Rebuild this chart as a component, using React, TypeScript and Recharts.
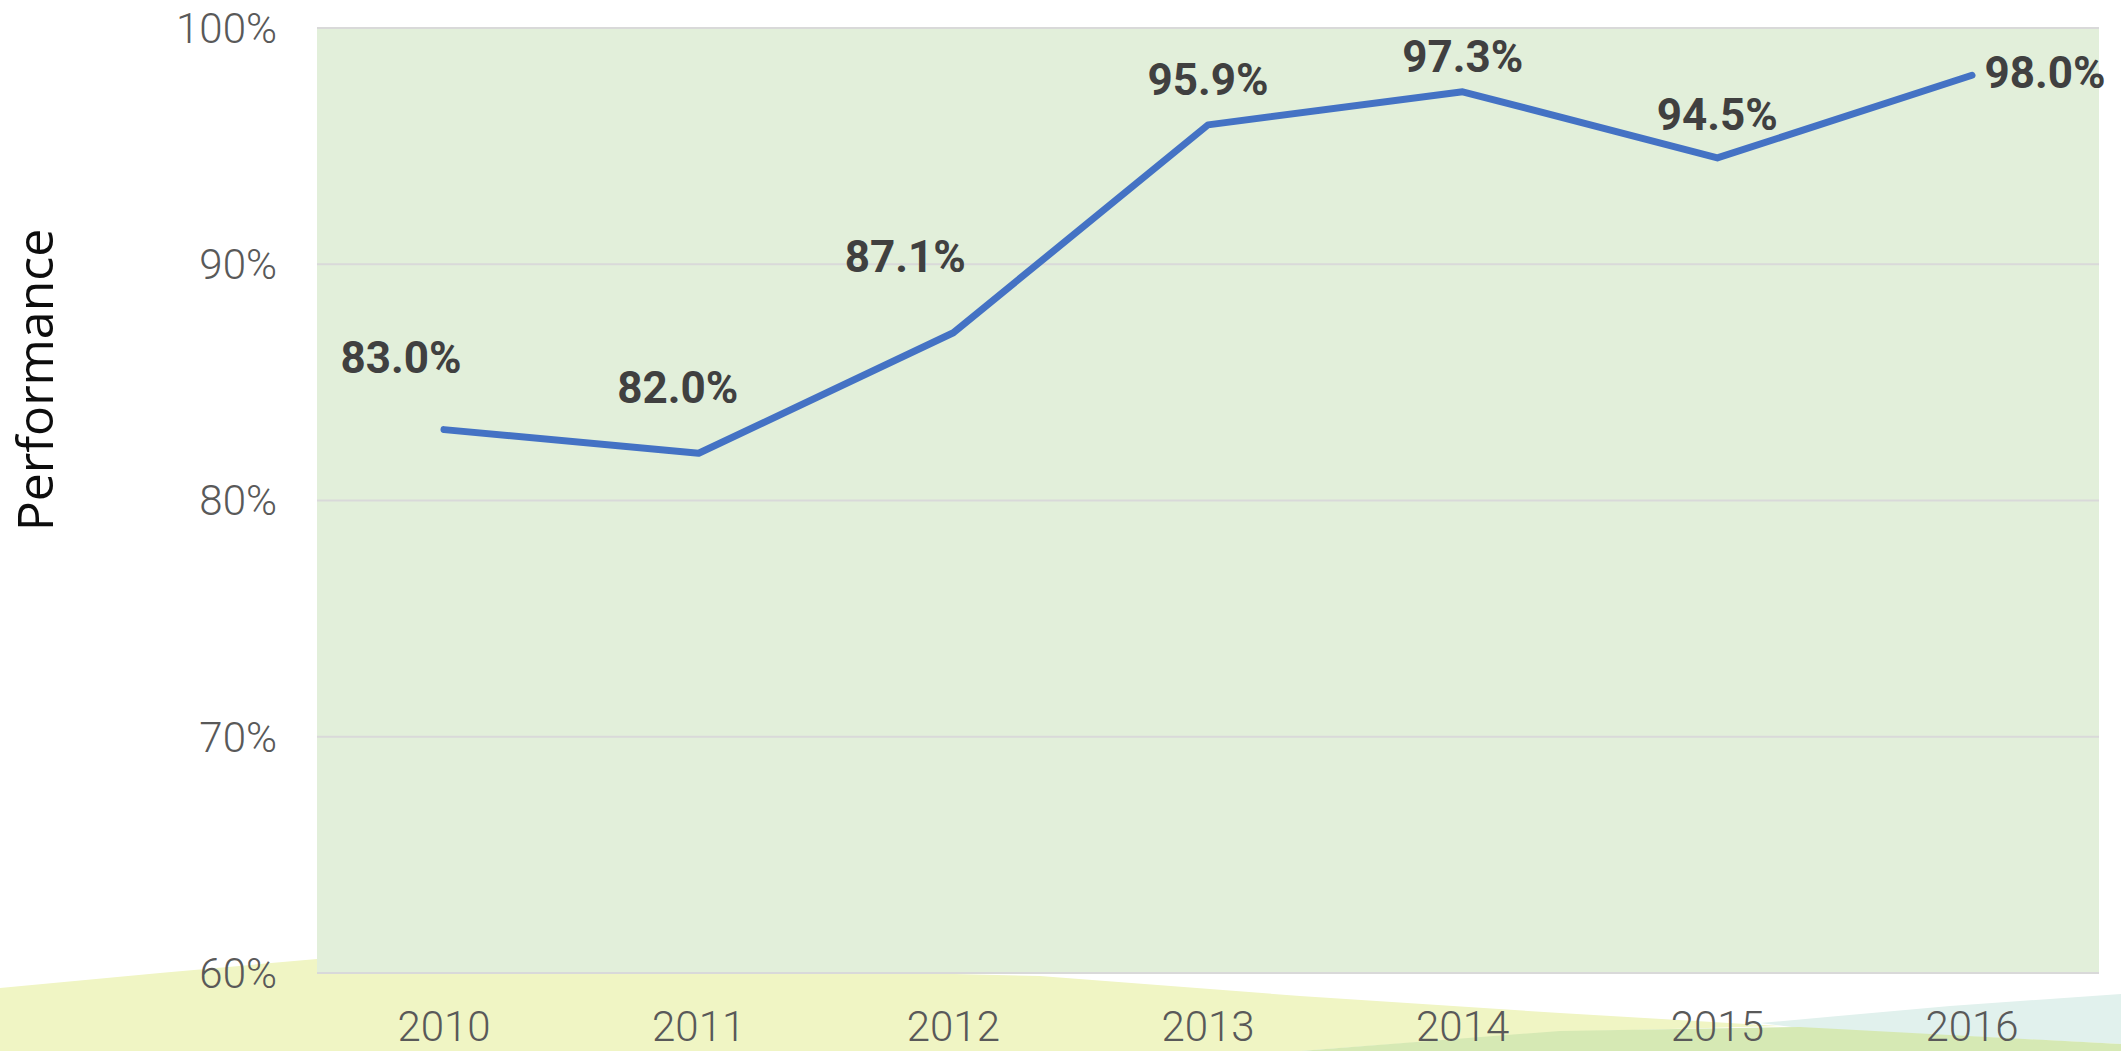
import React from 'react';
import { LineChart, Line, XAxis, YAxis, CartesianGrid, LabelList, Label } from 'recharts';

const years = ['2010', '2011', '2012', '2013', '2014', '2015', '2016'];
const performance = [83.0, 82.0, 87.1, 95.9, 97.3, 94.5, 98.0];
const yTicks = [60, 70, 80, 90, 100];

const data = years.map((year, i) => ({ year, performance: performance[i] }));

const W = 2121;
const H = 1051;

// label placement (offset of the label centre from its point)
const LABEL_OFFSETS: [number, number][] = [
  [-43, -72],
  [-21, -66],
  [-48, -76],
  [0, -45],
  [0, -35],
  [0, -44],
  [73, -3],
];

const LABEL_FONT = 44;

function DataLabel(props: any) {
  const { x, y, value, index } = props;
  const off = LABEL_OFFSETS[index] ?? [0, -40];
  return (
    <text
      x={Number(x) + off[0]}
      y={Number(y) + off[1] + LABEL_FONT * 0.355}
      textAnchor="middle"
      fontFamily="Roboto"
      fontWeight={700}
      fontSize={LABEL_FONT}
      fill="#404040"
    >
      {`${Number(value).toFixed(1)}%`}
    </text>
  );
}

function AxisTitle(props: any) {
  const vb = props.viewBox || { x: 0, y: 0, width: 0, height: 0 };
  const cx = 53;
  const cy = vb.y + vb.height * 0.3725;
  return (
    <text
      x={cx}
      y={cy}
      transform={`rotate(-90, ${cx}, ${cy})`}
      textAnchor="middle"
      fontFamily="'Open Sans'"
      fontSize={50}
      fill="#0d0d0d"
    >
      Performance
    </text>
  );
}

export default function App() {
  return (
    <div style={{ position: 'relative', width: W, height: H, background: '#ffffff', overflow: 'hidden' }}>
      <style>{`body{margin:0;}`}</style>
      <svg width={W} height={H} style={{ position: 'absolute', left: 0, top: 0 }}>
        <polygon
          points="0,988 160,973 317,959 700,968 1040,976 1300,996 1560,1013 1780,1026 1560,1032 1300,1051 0,1051"
          fill="#F0F5C4"
        />
        <polygon points="1760,1023 1950,1006 2121,994 2121,1044 1800,1028" fill="#E1F1ED" />
        <polygon points="1300,1051 1560,1031 1800,1027 2121,1044 2121,1051" fill="#D6E9B4" />
      </svg>
      <div style={{ position: 'absolute', left: 0, top: 0 }}>
        <LineChart width={W} height={H} data={data} margin={{ top: 28, right: 22, bottom: 0, left: 0 }}>
          <CartesianGrid vertical={false} stroke="#D9D9D9" strokeWidth={2} fill="#E2EFDA" fillOpacity={1} />
          <XAxis
            dataKey="year"
            height={78}
            padding={{ left: 127, right: 127 }}
            axisLine={false}
            tickLine={false}
            tickSize={0}
            tickMargin={38}
            interval={0}
            tick={{ fontFamily: 'Roboto', fontWeight: 300, fontSize: 42, fill: '#595959' }}
          />
          <YAxis
            width={317}
            domain={[60, 100]}
            ticks={yTicks}
            allowDataOverflow
            axisLine={false}
            tickLine={false}
            tickSize={0}
            tickMargin={40}
            tickFormatter={(v: number) => `${v}%`}
            tick={{ fontFamily: 'Roboto', fontWeight: 300, fontSize: 42, fill: '#595959' }}
          >
            <Label content={<AxisTitle />} />
          </YAxis>
          <Line
            type="linear"
            dataKey="performance"
            stroke="#4472C4"
            strokeWidth={7}
            strokeLinecap="round"
            strokeLinejoin="round"
            dot={false}
            activeDot={false}
            isAnimationActive={false}
          >
            <LabelList dataKey="performance" content={<DataLabel />} />
          </Line>
        </LineChart>
      </div>
    </div>
  );
}
